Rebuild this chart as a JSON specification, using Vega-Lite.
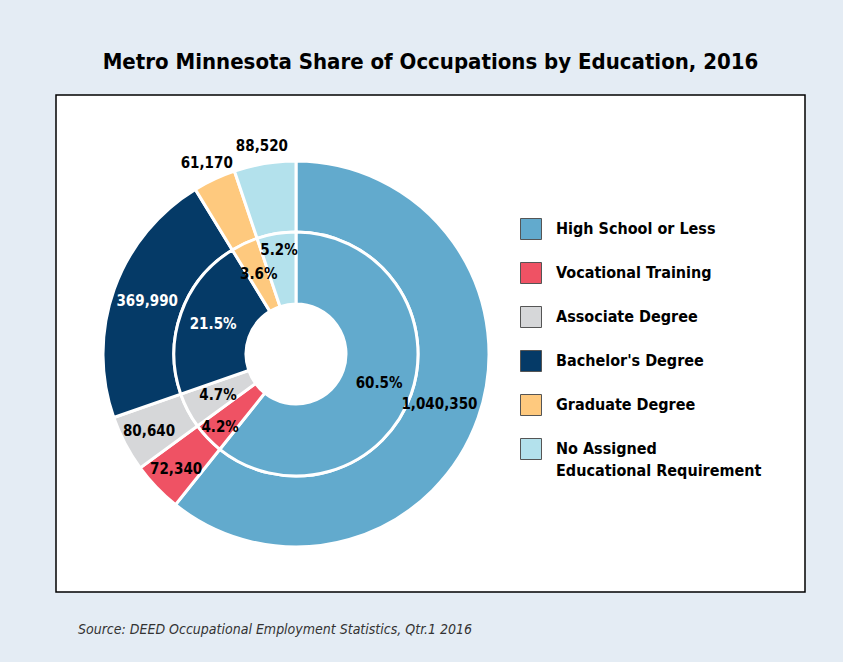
{
  "$schema": "https://vega.github.io/schema/vega-lite/v6.json",
  "background": "#e4ecf4",
  "padding": {"left": 55, "right": 39, "top": 51, "bottom": 32},
  "autosize": {"type": "pad"},
  "datasets": {
    "edu": [
      {"category": "High School or Less", "rank": 1, "jobs": 1040350, "share": 0.605},
      {"category": "Vocational Training", "rank": 2, "jobs": 72340, "share": 0.042},
      {"category": "Associate Degree", "rank": 3, "jobs": 80640, "share": 0.047},
      {"category": "Bachelor's Degree", "rank": 4, "jobs": 369990, "share": 0.215},
      {"category": "Graduate Degree", "rank": 5, "jobs": 61170, "share": 0.036},
      {"category": "No Assigned Educational Requirement", "rank": 6, "jobs": 88520, "share": 0.052}
    ]
  },
  "title": {
    "text": "Metro Minnesota Share of Occupations by Education, 2016",
    "font": "DejaVu Sans Condensed, sans-serif",
    "fontSize": 22,
    "fontWeight": "bold",
    "color": "black",
    "anchor": "middle",
    "offset": 20
  },
  "vconcat": [
    {
      "width": 749,
      "height": 497,
      "title": {
        "text": "Source: DEED Occupational Employment Statistics, Qtr.1 2016",
        "orient": "bottom",
        "anchor": "start",
        "dx": 22,
        "offset": 31,
        "font": "DejaVu Sans Condensed, sans-serif",
        "fontSize": 14,
        "fontStyle": "italic",
        "fontWeight": "normal",
        "color": "#333333"
      },
      "data": {"name": "edu"},
      "encoding": {
        "theta": {"field": "jobs", "type": "quantitative", "stack": true},
        "order": {"field": "rank", "type": "quantitative"},
        "detail": {"field": "category", "type": "nominal"},
        "x": {"value": 240},
        "y": {"value": 259}
      },
      "layer": [
        {
          "mark": {"type": "arc", "outerRadius": 193, "innerRadius": 122, "stroke": "white", "strokeWidth": 3},
          "encoding": {
            "color": {
              "field": "category",
              "type": "nominal",
              "scale": {
                "domain": ["High School or Less", "Vocational Training", "Associate Degree", "Bachelor's Degree", "Graduate Degree", "No Assigned Educational Requirement"],
                "range": ["#62aacd", "#ef5264", "#d6d7d9", "#053a67", "#fec97e", "#b3e1ec"]
              },
              "legend": {
                "title": null,
                "orient": "none",
                "legendX": 464,
                "legendY": 123,
                "padding": 0,
                "symbolType": "square",
                "symbolSize": 441,
                "symbolStrokeColor": "#555555",
                "symbolStrokeWidth": 1,
                "labelFont": "DejaVu Sans Condensed, sans-serif",
                "labelFontSize": 16,
                "labelFontWeight": "bold",
                "labelColor": "black",
                "labelOffset": 14,
                "labelLimit": 300,
                "rowPadding": 18,
                "labelExpr": "datum.label === 'No Assigned Educational Requirement' ? ['No Assigned', 'Educational Requirement'] : datum.label",
                "encode": {
                  "symbols": {"update": {"stroke": {"value": "#555555"}, "strokeWidth": {"value": 1}}},
                  "labels": {"update": {"lineHeight": {"value": 22}}}
                }
              }
            }
          }
        },
        {
          "mark": {"type": "arc", "outerRadius": 122, "innerRadius": 50, "stroke": "white", "strokeWidth": 3},
          "encoding": {
            "color": {"field": "category", "type": "nominal"}
          }
        },
        {
          "mark": {"type": "text", "radius": 166, "font": "DejaVu Sans Condensed, sans-serif", "fontSize": 15, "fontWeight": "bold"},
          "encoding": {
            "text": {
              "condition": {"test": "datum.category === 'Vocational Training' || datum.category === 'Associate Degree'", "field": "jobs", "type": "quantitative", "format": ","},
              "value": ""
            },
            "color": {"value": "black"}
          }
        },
        {
          "mark": {"type": "text", "radius": 158, "font": "DejaVu Sans Condensed, sans-serif", "fontSize": 15, "fontWeight": "bold", "color": "white"},
          "encoding": {
            "text": {
              "condition": {"test": "datum.category === \"Bachelor's Degree\"", "field": "jobs", "type": "quantitative", "format": ","},
              "value": ""
            }
          }
        },
        {
          "mark": {"type": "text", "radius": 152, "font": "DejaVu Sans Condensed, sans-serif", "fontSize": 15, "fontWeight": "bold", "color": "black"},
          "encoding": {
            "text": {
              "condition": {"test": "datum.category === 'High School or Less'", "field": "jobs", "type": "quantitative", "format": ","},
              "value": ""
            }
          }
        },
        {
          "mark": {"type": "text", "radius": 211, "font": "DejaVu Sans Condensed, sans-serif", "fontSize": 15, "fontWeight": "bold", "color": "black"},
          "encoding": {
            "text": {
              "condition": {"test": "datum.category === 'Graduate Degree' || datum.category === 'No Assigned Educational Requirement'", "field": "jobs", "type": "quantitative", "format": ","},
              "value": ""
            }
          }
        },
        {
          "mark": {"type": "text", "radius": 88, "font": "DejaVu Sans Condensed, sans-serif", "fontSize": 15, "fontWeight": "bold"},
          "encoding": {
            "text": {
              "condition": {"test": "datum.category !== 'Vocational Training' && datum.category !== 'No Assigned Educational Requirement'", "field": "share", "type": "quantitative", "format": ".1%"},
              "value": ""
            },
            "color": {"condition": {"test": "datum.category === \"Bachelor's Degree\"", "value": "white"}, "value": "black"}
          }
        },
        {
          "mark": {"type": "text", "radius": 105, "font": "DejaVu Sans Condensed, sans-serif", "fontSize": 15, "fontWeight": "bold", "color": "black"},
          "encoding": {
            "text": {
              "condition": {"test": "datum.category === 'Vocational Training' || datum.category === 'No Assigned Educational Requirement'", "field": "share", "type": "quantitative", "format": ".1%"},
              "value": ""
            }
          }
        }
      ]
    }
  ],
  "config": {
    "view": {"fill": "white", "stroke": "black", "strokeWidth": 1.5},
    "concat": {"spacing": 0}
  }
}
